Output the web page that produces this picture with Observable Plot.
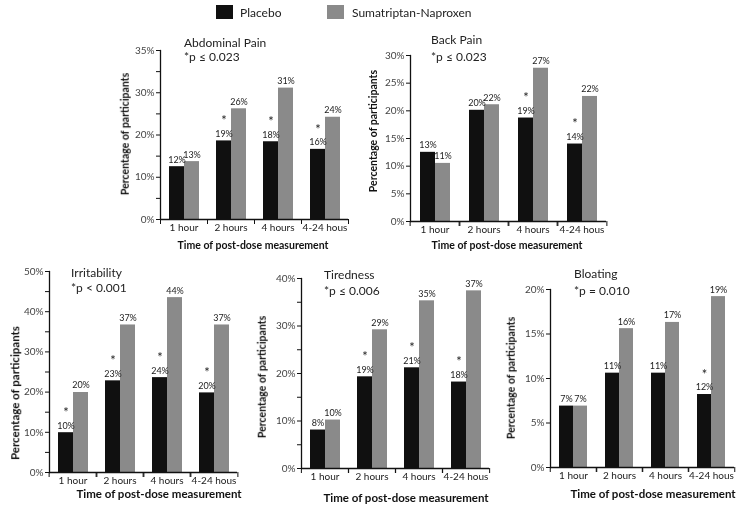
<!DOCTYPE html>
<html><head><meta charset="utf-8">
<script src="https://cdn.jsdelivr.net/npm/d3@7"></script>
<script src="https://cdn.jsdelivr.net/npm/@observablehq/plot@0.6"></script>
<style>
body{margin:0;background:#fff;font-family:Lato,sans-serif;}
#root{position:relative;width:741px;height:506px;overflow:hidden;background:#fff;}
.panel{position:absolute;will-change:transform;}
.ttl{position:absolute;font-size:12px;color:#222;white-space:nowrap;transform:translateY(-50%);line-height:1;}
.sw{position:absolute;width:17px;height:14px;}
.lg{position:absolute;font-size:12px;color:#222;white-space:nowrap;transform:translateY(-50%);line-height:1;}
.xt{position:absolute;font-weight:bold;color:#111;white-space:nowrap;line-height:1;transform:translate(-50%,-50%);}
.yt{position:absolute;font-weight:bold;color:#111;white-space:nowrap;line-height:1;transform:translate(-50%,-50%) rotate(-90deg);}
</style></head><body><div id="root"></div>
<script>
// ---- data ----
const times = ["1 hour", "2 hours", "4 hours", "4-24 hous"];
const series = ["Placebo", "Sumatriptan-Naproxen"];
const panelTitles = ["Abdominal Pain", "Back Pain", "Irritability", "Tiredness", "Bloating"];
const pValues = ["*p \u2264 0.023", "*p \u2264 0.023", "*p < 0.001", "*p \u2264 0.006", "*p = 0.010"];
const yTitle = "Percentage of participants";
const xTitle = "Time of post-dose measurement";

const abdominalPlacebo = [12.5, 18.6, 18.4, 16.6];
const abdominalActive = [13.7, 26.2, 31.1, 24.2];
const abdominalPlaceboLabels = ["12%", "19%", "18%", "16%"];
const abdominalActiveLabels = ["13%", "26%", "31%", "24%"];
const abdominalStars = [false, true, true, true];
const abdominalYTicks = [0, 10, 20, 30, 40];
const abdominalYTickLabels = ["0%", "10%", "20%", "30%", "35%"];
const abdominalYMinor = [5, 15, 25, 35];

const backPlacebo = [12.5, 20.1, 18.7, 14.0];
const backActive = [10.5, 21.1, 27.7, 22.6];
const backPlaceboLabels = ["13%", "20%", "19%", "14%"];
const backActiveLabels = ["11%", "22%", "27%", "22%"];
const backStars = [false, false, true, true];
const backYTicks = [0, 5, 10, 15, 20, 25, 30];
const backYTickLabels = ["0%", "5%", "10%", "15%", "20%", "25%", "30%"];
const backYMinor = [];

const irritPlacebo = [9.9, 22.8, 23.6, 19.8];
const irritActive = [19.9, 36.7, 43.5, 36.7];
const irritPlaceboLabels = ["10%", "23%", "24%", "20%"];
const irritActiveLabels = ["20%", "37%", "44%", "37%"];
const irritStars = [true, true, true, true];
const irritYTicks = [0, 10, 20, 30, 40, 50];
const irritYTickLabels = ["0%", "10%", "20%", "30%", "40%", "50%"];
const irritYMinor = [5, 15, 25, 35, 45];

const tiredPlacebo = [8.1, 19.3, 21.2, 18.2];
const tiredActive = [10.2, 29.2, 35.3, 37.4];
const tiredPlaceboLabels = ["8%", "19%", "21%", "18%"];
const tiredActiveLabels = ["10%", "29%", "35%", "37%"];
const tiredStars = [false, true, true, true];
const tiredYTicks = [0, 10, 20, 30, 40];
const tiredYTickLabels = ["0%", "10%", "20%", "30%", "40%"];
const tiredYMinor = [5, 15, 25, 35];

const bloatPlacebo = [6.9, 10.6, 10.6, 8.2];
const bloatActive = [6.9, 15.6, 16.3, 19.2];
const bloatPlaceboLabels = ["7%", "11%", "11%", "12%"];
const bloatActiveLabels = ["7%", "16%", "17%", "19%"];
const bloatStars = [false, false, false, true];
const bloatYTicks = [0, 5, 10, 15, 20];
const bloatYTickLabels = ["0%", "5%", "10%", "15%", "20%"];
const bloatYMinor = [];

const colors = ["#101010", "#8a8a8a"];

// ---- layout (positions only) ----
const panels = [
  {pl: abdominalPlacebo, ac: abdominalActive, pll: abdominalPlaceboLabels, acl: abdominalActiveLabels, st: abdominalStars, yt: abdominalYTicks, ytl: abdominalYTickLabels, ym: abdominalYMinor,
   geo: {left: 100, top: 40, width: 260, height: 215, ml: 60, mt: 10, mr: 12, mb: 36, tx: 184, ty: 43, py: 57,
         xcx: 253, xcy: 245, xfs: 10.5, ycx: 125, ycy: 134, yfs: 10.5}},
  {pl: backPlacebo, ac: backActive, pll: backPlaceboLabels, acl: backActiveLabels, st: backStars, yt: backYTicks, ytl: backYTickLabels, ym: backYMinor,
   geo: {left: 350, top: 45, width: 270, height: 215, ml: 58, mt: 10, mr: 13, mb: 39, tx: 431, ty: 40, py: 57,
         xcx: 507, xcy: 245, xfs: 10.5, ycx: 373, ycy: 131, yfs: 10.5}},
  {pl: irritPlacebo, ac: irritActive, pll: irritPlaceboLabels, acl: irritActiveLabels, st: irritStars, yt: irritYTicks, ytl: irritYTickLabels, ym: irritYMinor,
   geo: {left: 0, top: 261, width: 250, height: 245, ml: 47, mt: 10, mr: 12, mb: 34, tx: 71, ty: 273, py: 288,
         xcx: 159, xcy: 494, xfs: 11.5, ycx: 15, ycy: 393, yfs: 11.5}},
  {pl: tiredPlacebo, ac: tiredActive, pll: tiredPlaceboLabels, acl: tiredActiveLabels, st: tiredStars, yt: tiredYTicks, ytl: tiredYTickLabels, ym: tiredYMinor,
   geo: {left: 250, top: 268, width: 250, height: 238, ml: 50, mt: 10, mr: 11, mb: 38, tx: 324, ty: 275, py: 291,
         xcx: 406, xcy: 498, xfs: 11.5, ycx: 262, ycy: 377, yfs: 10.5}},
  {pl: bloatPlacebo, ac: bloatActive, pll: bloatPlaceboLabels, acl: bloatActiveLabels, st: bloatStars, yt: bloatYTicks, ytl: bloatYTickLabels, ym: bloatYMinor,
   geo: {left: 495, top: 279, width: 246, height: 227, ml: 54, mt: 10, mr: 6, mb: 39, tx: 574, ty: 274, py: 291,
         xcx: 653, xcy: 494, xfs: 11.5, ycx: 511, ycy: 378, yfs: 10.5}}
];

const root = document.getElementById("root");

function addDiv(cls, text, x, y, fs) {
  const d = document.createElement("div");
  d.className = cls; d.textContent = text;
  d.style.left = x + "px"; d.style.top = y + "px";
  if (fs) d.style.fontSize = fs + "px";
  root.appendChild(d);
  return d;
}

function makePanel(p, k) {
  const g = p.geo;
  const rows = [];
  times.forEach((t, i) => {
    rows.push({time: t, series: series[0], value: p.pl[i], label: p.pll[i], star: p.st[i]});
    rows.push({time: t, series: series[1], value: p.ac[i], label: p.acl[i], star: false});
  });
  const fw = (g.width - g.ml - g.mr) / times.length;
  const yMax = p.yt[p.yt.length - 1];
  const chart = Plot.plot({
    width: g.width, height: g.height,
    marginLeft: g.ml, marginRight: g.mr, marginTop: g.mt, marginBottom: g.mb,
    style: {fontFamily: "Lato, sans-serif", fontSize: "10px", color: "#111", background: "transparent", overflow: "visible"},
    fx: {domain: times, padding: 0, label: null},
    x: {domain: series, paddingInner: 0, paddingOuter: 0.55, axis: null},
    y: {domain: [0, yMax], label: null},
    color: {domain: series, range: colors},
    marks: [
      Plot.barY(rows, {fx: "time", x: "series", y: "value", fill: "series"}),
      Plot.text(rows, {fx: "time", x: "series", y: "value", text: "label", dy: -7, fill: "#222", fontSize: 9}),
      Plot.text(rows.filter(d => d.star), {fx: "time", x: "series", y: "value", text: d => "*", dy: -20, fill: "#222", fontSize: 13}),
      Plot.ruleY([0], {stroke: "#111", strokeWidth: 1.3}),
      Plot.frame({anchor: "left", facetAnchor: "left", stroke: "#111", strokeWidth: 1.3}),
      Plot.axisY({ticks: p.yt, tickFormat: d => p.ytl[p.yt.indexOf(d)], tickSize: 4, tickPadding: 2, fill: "#444", label: null}),
      Plot.axisY({ticks: p.ym, tickFormat: d => "", tickSize: 4, label: null}),
      Plot.axisFx({anchor: "bottom", tickSize: 0, tickPadding: 4, fill: "#222", label: null}),
      Plot.axisFx({anchor: "bottom", tickSize: 5, tickFormat: d => "", label: null, dx: -fw / 2}),
      Plot.axisFx({anchor: "bottom", tickSize: 5, tickFormat: d => "", label: null, dx: fw / 2})
    ]
  });
  chart.classList.add("panel");
  chart.style.left = g.left + "px";
  chart.style.top = g.top + "px";
  root.appendChild(chart);

  addDiv("ttl", panelTitles[k], g.tx, g.ty);
  addDiv("ttl", pValues[k], g.tx, g.py);
  addDiv("xt", xTitle, g.xcx, g.xcy, g.xfs);
  addDiv("yt", yTitle, g.ycx, g.ycy, g.yfs);
}
panels.forEach(makePanel);

// legend
const legendPos = [{sx: 216, tx: 240}, {sx: 327, tx: 352}];
series.forEach((s, i) => {
  const sw = document.createElement("div");
  sw.className = "sw"; sw.style.background = colors[i];
  sw.style.left = legendPos[i].sx + "px"; sw.style.top = "5px";
  root.appendChild(sw);
  addDiv("lg", s, legendPos[i].tx, 13);
});
</script>
</body></html>
